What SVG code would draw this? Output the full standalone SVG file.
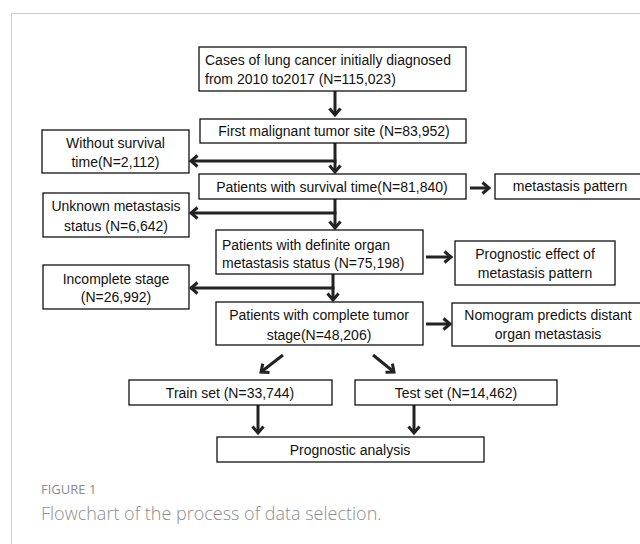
<svg xmlns="http://www.w3.org/2000/svg" width="640" height="544" viewBox="0 0 640 544">
<defs>
<marker id="ah" markerUnits="userSpaceOnUse" viewBox="-10 -8 14 16" refX="0" refY="0" markerWidth="14" markerHeight="16" orient="auto" overflow="visible">
<path d="M-6.5,-5.5 L0,0 L-6.5,5.5" fill="none" stroke="#222" stroke-width="3" stroke-linejoin="miter" stroke-linecap="butt"/>
</marker>
</defs>
<style>
.box{fill:#fff;stroke:#111;stroke-width:1.3}
.t{font-family:"Liberation Sans",Arial,sans-serif;font-size:14px;fill:#111}
.c{text-anchor:middle}
.ln{fill:none;stroke:#222;stroke-width:3}
.ar{fill:none;stroke:#222;stroke-width:3;marker-end:url(#ah)}
.cap1{font-family:"Open Sans","Liberation Sans",sans-serif;font-size:13px;fill:#8c8c8c}
.cap2{font-family:"Open Sans","Liberation Sans",sans-serif;font-size:18px;font-weight:300;fill:#8c8c8c}
</style>
<rect x="11.5" y="13.5" width="700" height="600" fill="none" stroke="#cfcfcf" stroke-width="1"/>
<g id="connectors">
<line class="ar" x1="335" y1="91" x2="335" y2="115"/>
<line class="ar" x1="335" y1="143" x2="335" y2="172"/>
<line class="ln" x1="336.5" y1="161" x2="200" y2="161"/>
<line class="ar" x1="200" y1="161" x2="191" y2="161"/>
<line class="ar" x1="335" y1="199" x2="335" y2="228"/>
<line class="ln" x1="336.5" y1="213" x2="200" y2="213"/>
<line class="ar" x1="200" y1="213" x2="191" y2="213"/>
<line class="ar" x1="333" y1="274" x2="333" y2="300"/>
<line class="ln" x1="334.5" y1="288" x2="200" y2="288"/>
<line class="ar" x1="200" y1="288" x2="191" y2="288"/>
<line class="ar" x1="470" y1="188" x2="489" y2="188"/>
<line class="ar" x1="426" y1="257" x2="451" y2="257"/>
<line class="ar" x1="426" y1="324" x2="450" y2="324"/>
<line class="ar" x1="283" y1="355" x2="261" y2="372"/>
<line class="ar" x1="373" y1="355" x2="394" y2="372"/>
<line class="ar" x1="258" y1="405" x2="258" y2="433"/>
<line class="ar" x1="414" y1="405" x2="414" y2="433"/>
</g>
<g id="n1"><rect class="box" x="199" y="47" width="267" height="44"/>
<text class="t" x="205" y="65">Cases of lung cancer initially diagnosed</text>
<text class="t" x="205" y="84">from 2010 to2017 (N=115,023)</text></g>
<g id="n2"><rect class="box" x="200" y="119" width="266" height="24"/>
<text class="t c" x="334" y="136">First malignant tumor site (N=83,952)</text></g>
<g id="n3"><rect class="box" x="42" y="130" width="147" height="43"/>
<text class="t c" x="115.5" y="148">Without survival</text>
<text class="t c" x="115.5" y="167">time(N=2,112)</text></g>
<g id="n4"><rect class="box" x="199" y="174" width="267" height="25"/>
<text class="t c" x="332" y="192">Patients with survival time(N=81,840)</text></g>
<g id="n5"><rect class="box" x="495" y="174" width="150" height="25"/>
<text class="t c" x="570" y="191">metastasis pattern</text></g>
<g id="n6"><rect class="box" x="43" y="193" width="146" height="44"/>
<text class="t c" x="116" y="211">Unknown metastasis</text>
<text class="t c" x="116" y="231">status (N=6,642)</text></g>
<g id="n7"><rect class="box" x="216" y="230" width="207" height="44"/>
<text class="t" x="222" y="250">Patients with definite organ</text>
<text class="t" x="222" y="268">metastasis status (N=75,198)</text></g>
<g id="n8"><rect class="box" x="455" y="241" width="160" height="44"/>
<text class="t c" x="535" y="259">Prognostic effect of</text>
<text class="t c" x="535" y="278">metastasis pattern</text></g>
<g id="n9"><rect class="box" x="43" y="265" width="146" height="44"/>
<text class="t c" x="116" y="284">Incomplete stage</text>
<text class="t c" x="116" y="302">(N=26,992)</text></g>
<g id="n10"><rect class="box" x="216" y="302" width="207" height="43"/>
<text class="t c" x="319" y="320">Patients with complete tumor</text>
<text class="t c" x="319" y="339.5">stage(N=48,206)</text></g>
<g id="n11"><rect class="box" x="452" y="303" width="192" height="43"/>
<text class="t c" x="548" y="320">Nomogram predicts distant</text>
<text class="t c" x="548" y="338.5">organ metastasis</text></g>
<g id="n12"><rect class="box" x="129" y="380" width="203" height="25"/>
<text class="t c" x="230" y="398">Train set (N=33,744)</text></g>
<g id="n13"><rect class="box" x="355" y="380" width="202" height="25"/>
<text class="t c" x="456" y="398">Test set (N=14,462)</text></g>
<g id="n14"><rect class="box" x="217" y="437" width="267" height="25"/>
<text class="t c" x="350" y="455">Prognostic analysis</text></g>
<text class="cap1" x="41" y="494">FIGURE 1</text>
<text class="cap2" x="41" y="520">Flowchart of the process of data selection.</text>
</svg>
